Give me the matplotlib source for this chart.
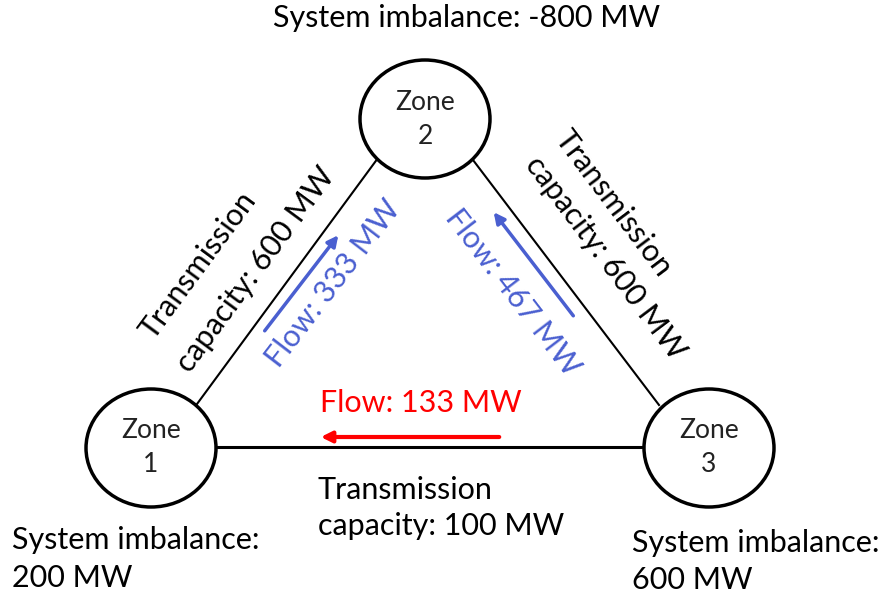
import matplotlib.pyplot as plt
from matplotlib.patches import Ellipse

plt.rcParams["font.family"] = ["Lato", "DejaVu Sans"]

zones = ["1", "2", "3"]
imbalance = [200, -800, 600]
capacity = {"1-2": 600, "2-3": 600, "1-3": 100}
flows = {"1-2": 333, "3-2": 467, "3-1": 133}

# pixel layout (y down)
zpos = {"1": (151, 448), "2": (425, 119), "3": (709, 448)}

fig = plt.figure(figsize=(8.95, 5.98), dpi=100)
ax = fig.add_axes([0, 0, 1, 1])
ax.set_xlim(0, 895)
ax.set_ylim(598, 0)
ax.axis("off")

# links
ax.plot([197, 378], [404, 158], color="black", lw=1.5, zorder=1)
ax.plot([473, 659], [160, 405], color="black", lw=1.5, zorder=1)
ax.plot([217, 643], [447, 447], color="black", lw=2.2, zorder=1)

for z in zones:
    x, y = zpos[z]
    ax.add_patch(Ellipse((x, y), 130, 118, facecolor="white", edgecolor="black", lw=2.5, zorder=2))
    ax.text(x, y - 17, "Zone", ha="center", va="center", fontsize=19, color="#222222", zorder=3)
    ax.text(x, y + 17, z, ha="center", va="center", fontsize=19, color="#222222", zorder=3)

fs = 22


def txt(x, y, s, **kw):
    kw.setdefault("ha", "center")
    ax.text(x, y, s, va="center", fontsize=fs, rotation_mode="anchor", **kw)


txt(467, 18, f"System imbalance: {imbalance[1]} MW")
txt(12, 540, "System imbalance:", ha="left")
txt(12, 578, f"{imbalance[0]} MW", ha="left")
txt(632, 543, "System imbalance:", ha="left")
txt(632, 580, f"{imbalance[2]} MW", ha="left")

txt(198, 265, "Transmission", rotation=53.6)
txt(256, 270, f"capacity: {capacity['1-2']} MW", rotation=53.6)
txt(613, 203, "Transmission", rotation=-53)
txt(605, 258, f"capacity: {capacity['2-3']} MW", rotation=-53)
txt(318, 490, "Transmission", ha="left")
txt(318, 526, f"capacity: {capacity['1-3']} MW", ha="left")

blue = "#4a5fd0"
red = "#ff0000"
ax.annotate("", xy=(340, 233), xytext=(263, 333),
            arrowprops=dict(arrowstyle="-|>", color=blue, lw=2.5, mutation_scale=16))
txt(333, 283, f"Flow: {flows['1-2']} MW", color=blue, rotation=52.5)
ax.annotate("", xy=(492, 210), xytext=(575, 318),
            arrowprops=dict(arrowstyle="-|>", color=blue, lw=2.5, mutation_scale=16))
txt(513, 293, f"Flow: {flows['3-2']} MW", color=blue, rotation=-52.5)
ax.annotate("", xy=(318, 437), xytext=(502, 437),
            arrowprops=dict(arrowstyle="-|>", color=red, lw=3, mutation_scale=16))
txt(421, 403, f"Flow: {flows['3-1']} MW", color=red)

fig.savefig("out.png", dpi=100)
